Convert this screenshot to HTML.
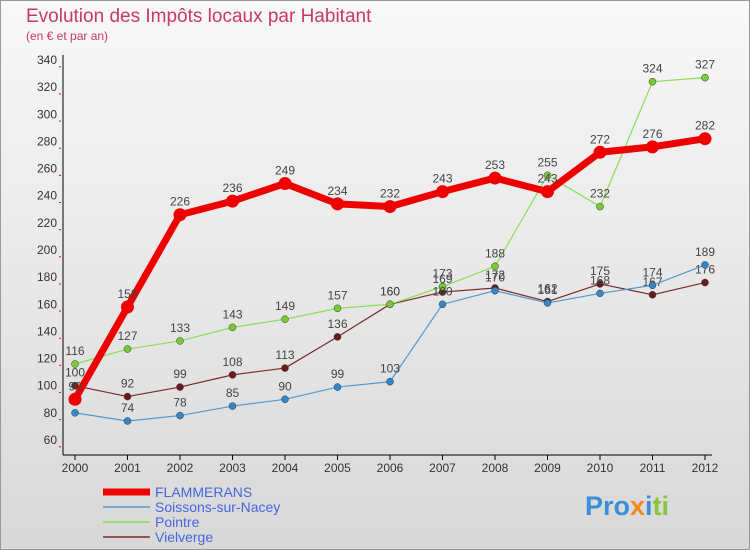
<!DOCTYPE html>
<html><head><meta charset="utf-8"><style>
body{margin:0;width:750px;height:550px;overflow:hidden;font-family:"Liberation Sans",sans-serif;}
svg{display:block}
</style></head><body>
<svg width="750" height="550">
<defs><linearGradient id="bg" x1="0" y1="0" x2="0" y2="1"><stop offset="0" stop-color="#f8f8f8"/><stop offset="1" stop-color="#d8d8d8"/></linearGradient></defs>
<rect x="0.5" y="0.5" width="749" height="549" fill="url(#bg)" stroke="#999"/>
<text x="26" y="22" font-size="19" fill="#c8386a">Evolution des Impôts locaux par Habitant</text>
<text x="26" y="40" font-size="12" fill="#c8386a">(en € et par an)</text>
<g id="axes"></g>
<g id="series"></g>
<g id="legend"></g>
<text x="585" y="515" font-size="27" font-weight="bold"><tspan fill="#3a8fd8">Pro</tspan><tspan fill="#f08a1a">x</tspan><tspan fill="#3a8fd8">i</tspan><tspan fill="#8ac43a">ti</tspan></text>
</svg>
<script>
const years=["2000","2001","2002","2003","2004","2005","2006","2007","2008","2009","2010","2011","2012"];
const yTicks=[60,80,100,120,140,160,180,200,220,240,260,280,300,320,340];
const flammerans=[90,158,226,236,249,234,232,243,253,243,272,276,282];
const soissons=[80,74,78,85,90,99,103,160,170,161,168,174,189];
const pointre=[116,127,133,143,149,157,160,173,188,255,232,324,327];
const vielverge=[100,92,99,108,113,136,160,169,172,162,175,167,176];
const names=["FLAMMERANS","Soissons-sur-Nacey","Pointre","Vielverge"];
const NS="http://www.w3.org/2000/svg";
const X=i=>75+i*52.5, Y=v=>440-(v-60)*380/280;
function mk(t,a,p){const e=document.createElementNS(NS,t);for(const k in a)e.setAttribute(k,a[k]);p.appendChild(e);return e;}
const ax=document.getElementById('axes');
const yl=mk('line',{x1:63,y1:55,x2:63,y2:455,stroke:'#000'},ax);


const xl=mk('line',{x1:63,y1:455,x2:712,y2:455,stroke:'#000'},ax);


yTicks.forEach(v=>{
 const t=mk('text',{x:57,y:Y(v)+4,'text-anchor':'end','font-size':12,fill:'#333'},ax);t.textContent=v;
 
 
 mk('line',{x1:59,y1:Y(v)+6.8,x2:61,y2:Y(v)+6.8,stroke:'#e00'},ax);
});
years.forEach((y,i)=>{
 mk('line',{x1:X(i),y1:455,x2:X(i),y2:460,stroke:'#000'},ax);
 const t=mk('text',{x:X(i),y:472,'text-anchor':'middle','font-size':12,fill:'#333'},ax);t.textContent=y;
 
 
});
const sg=document.getElementById('series');
function series(data,color,w,r,name,dot){
 const g=mk('g',{},sg);
 
 
 mk('polyline',{points:data.map((v,i)=>X(i)+','+Y(v)).join(' '),fill:'none',stroke:color,'stroke-width':w,'stroke-linejoin':'round'},g);
 data.forEach((v,i)=>{
  const c=mk('circle',{cx:X(i),cy:Y(v),r:r,fill:dot,stroke:'#333','stroke-width':w>3?0:0.5},g);
  
  
  const t=mk('text',{x:X(i),y:Y(v)-9,'text-anchor':'middle','font-size':12,fill:'#444'},g);t.textContent=v;
 });
}
series(vielverge,'#7a2a2a',1.2,3.5,'vielverge-series','#6a1a1a');
series(pointre,'#88dd55',1.2,3.5,'pointre-series','#77cc33');
series(soissons,'#5599cc',1.2,3.5,'soissons-series','#3388cc');
series(flammerans,'#ee0000',7,6.5,'flammerans-series','#ee0000');
const lg=document.getElementById('legend');
const cols=['#ee0000','#5599cc','#88dd55','#7a2a2a'],ws=[7,1.5,1.5,1.5];
names.forEach((n,i)=>{
 const yy=492+i*15;
 const l=mk('line',{x1:103,y1:yy,x2:150,y2:yy,stroke:cols[i],'stroke-width':ws[i]},lg);
 
 
 const t=mk('text',{x:155,y:yy+5,'font-size':14,fill:'#4466dd'},lg);t.textContent=n;
 
 
});
</script>
</body></html>
